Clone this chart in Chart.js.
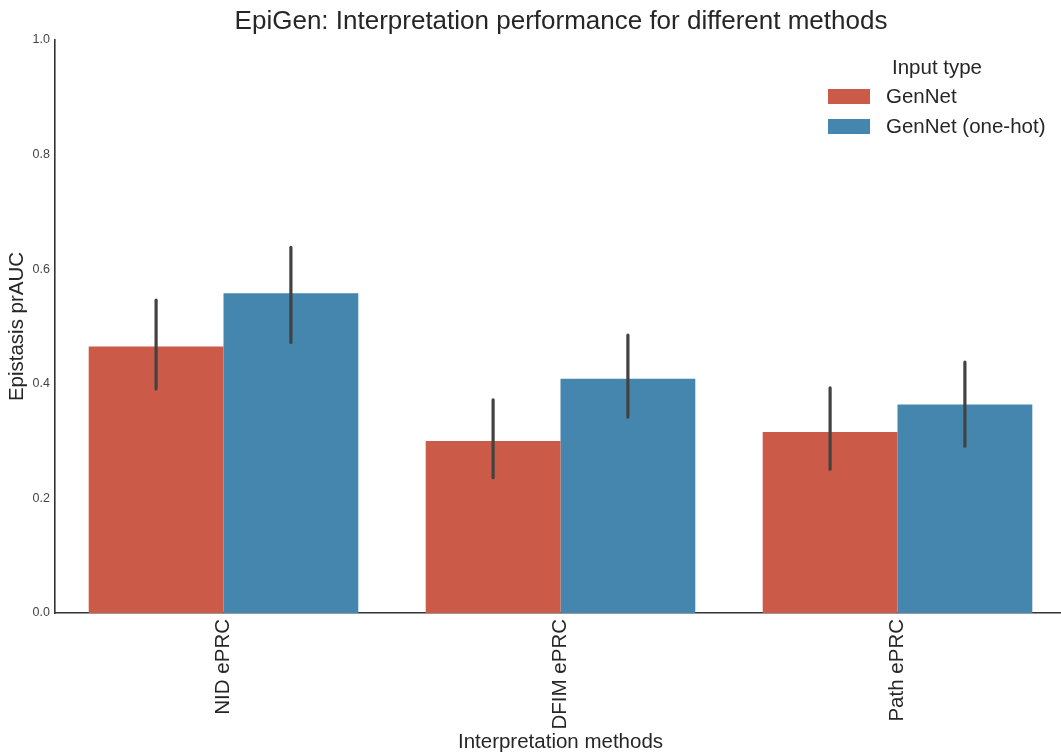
<!DOCTYPE html>
<html>
<head>
<meta charset="utf-8">
<script src="https://cdn.jsdelivr.net/npm/chart.js@4"></script>
<style>
  html, body { margin: 0; padding: 0; overflow: hidden; background: #fff; }
  #wrap { width: 1066px; height: 756px; }
</style>
</head>
<body>
<div id="wrap"><canvas id="epiChart"></canvas></div>
<script>
// data
const methods = ['NID ePRC', 'DFIM ePRC', 'Path ePRC'];
const seriesNames = ['GenNet', 'GenNet (one-hot)'];
const genNet = [0.465, 0.300, 0.316];
const genNetLow = [0.391, 0.236, 0.251];
const genNetHigh = [0.546, 0.372, 0.393];
const oneHot = [0.558, 0.409, 0.364];
const oneHotLow = [0.472, 0.342, 0.291];
const oneHotHigh = [0.638, 0.485, 0.438];
const yTicks = [0, 0.2, 0.4, 0.6, 0.8, 1.0];

const colors = ['#cc5a48', '#4486ad'];
const fontFam = '"Liberation Sans", Arial, sans-serif';

// error bars + title + legend, drawn after the bars
const extras = {
    id: 'extras',
    afterDatasetsDraw(chart) {
        const ctx = chart.ctx;
        const y = chart.scales.y;
        const errs = [[genNetLow, genNetHigh], [oneHotLow, oneHotHigh]];
        ctx.save();
        ctx.strokeStyle = '#424242';
        ctx.lineWidth = 3.2;
        ctx.lineCap = 'round';
        errs.forEach((e, di) => {
            chart.getDatasetMeta(di).data.forEach((bar, i) => {
                ctx.beginPath();
                ctx.moveTo(bar.x, y.getPixelForValue(e[0][i]));
                ctx.lineTo(bar.x, y.getPixelForValue(e[1][i]));
                ctx.stroke();
            });
        });
        ctx.restore();
    },
    afterDraw(chart) {
        const ctx = chart.ctx;
        ctx.save();
        ctx.fillStyle = '#262626';
        ctx.textAlign = 'center';
        ctx.textBaseline = 'middle';
        ctx.font = '26px ' + fontFam;
        ctx.fillText('EpiGen: Interpretation performance for different methods', 561, 22);

        // legend
        ctx.font = '20.5px ' + fontFam;
        ctx.fillText('Input type', 937, 68);
        ctx.textAlign = 'left';
        seriesNames.forEach((name, i) => {
            const yy = 96 + i * 30;
            ctx.fillStyle = colors[i];
            ctx.fillRect(828, yy - 7, 42, 15);
            ctx.fillStyle = '#262626';
            ctx.fillText(name, 886, yy + 1);
        });
        ctx.restore();
    }
};

new Chart(document.getElementById('epiChart'), {
    type: 'bar',
    data: {
        labels: methods,
        datasets: [
            { label: seriesNames[0], data: genNet, backgroundColor: colors[0] },
            { label: seriesNames[1], data: oneHot, backgroundColor: colors[1] }
        ]
    },
    options: {
        responsive: true,
        maintainAspectRatio: false,
        animation: false,
        categoryPercentage: 0.8,
        barPercentage: 1.0,
        layout: { padding: { top: 40, left: 0, right: 0, bottom: 0 } },
        plugins: {
            legend: { display: false },
            title: { display: false },
            tooltip: { enabled: false }
        },
        scales: {
            x: {
                grid: { display: false, drawTicks: false },
                border: { display: true, color: '#333', width: 1.6 },
                ticks: {
                    minRotation: 90, maxRotation: 90, padding: 6,
                    color: '#262626', font: { family: fontFam, size: 20.5 }
                },
                title: {
                    display: true, text: 'Interpretation methods', color: '#262626',
                    font: { family: fontFam, size: 20.5 }, padding: { top: 0, bottom: 1 }
                },
                afterFit(scale) { scale.height = 143; }
            },
            y: {
                min: 0, max: 1,
                grid: { display: false, drawTicks: false },
                border: { display: true, color: '#333', width: 1.6 },
                afterBuildTicks(scale) { scale.ticks = yTicks.map(v => ({ value: v })); },
                ticks: {
                    padding: 5, color: '#444',
                    font: { family: fontFam, size: 12.5 },
                    callback: v => v.toFixed(1)
                },
                title: {
                    display: true, text: 'Epistasis prAUC', color: '#262626',
                    font: { family: fontFam, size: 20.5 }, padding: { top: 5, bottom: 0 }
                },
                afterFit(scale) { scale.width = 55; }
            }
        }
    },
    plugins: [extras]
});
</script>
</body>
</html>
